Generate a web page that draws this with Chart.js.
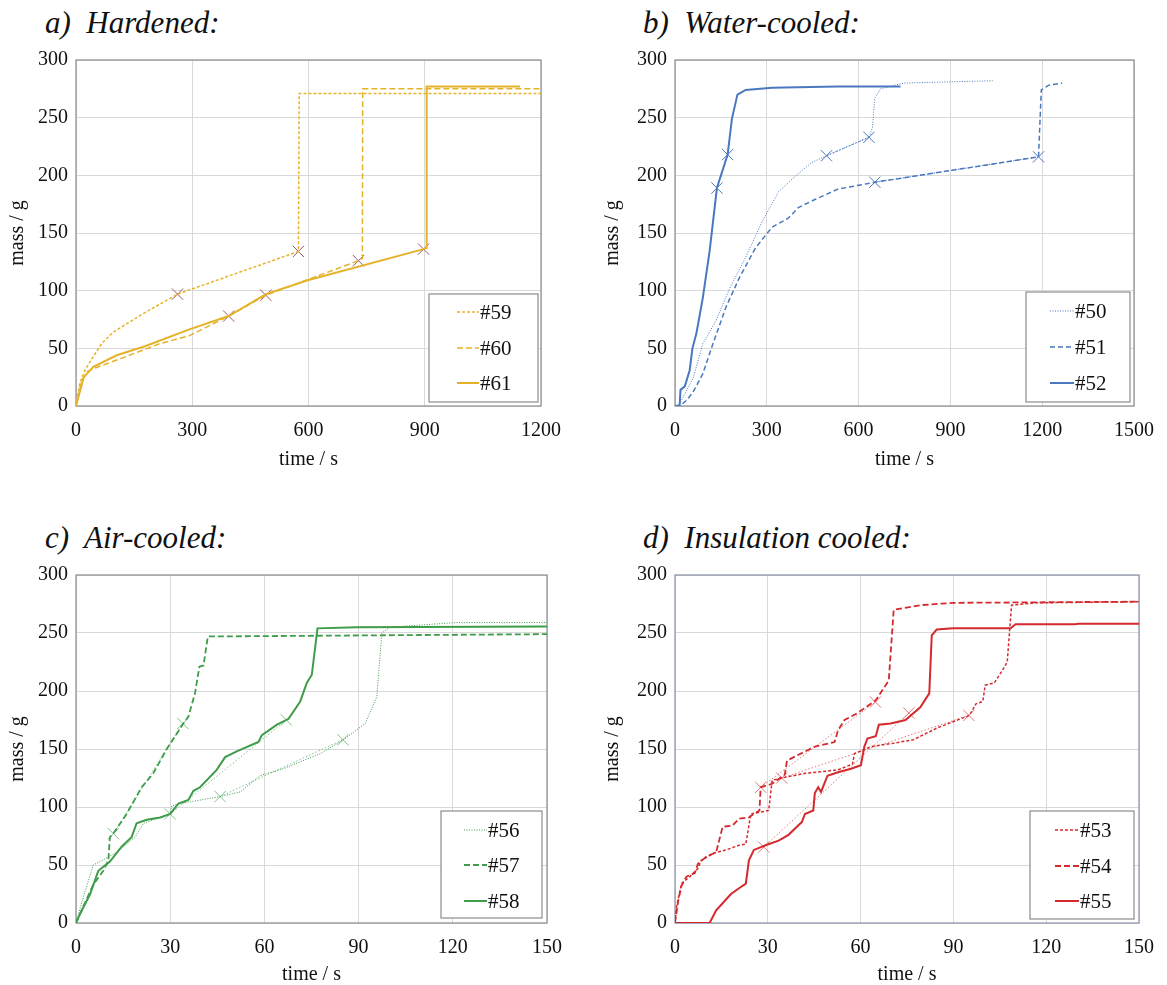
<!DOCTYPE html>
<html>
<head>
<meta charset="utf-8">
<script src="https://cdn.jsdelivr.net/npm/chart.js@4"></script>
<style>
  body { margin: 0; background: #fff; width: 1167px; height: 985px; position: relative; overflow: hidden; font-family: "Liberation Serif", serif; }
  .ttl { position: absolute; font-style: italic; font-size: 31px; line-height: 1; color: #111; white-space: pre; }
  .pn { position: absolute; }
</style>
</head>
<body>
<div class="ttl" style="left:45px;top:7px">a)  Hardened:</div>
<div class="ttl" style="left:643px;top:7px">b)  Water-cooled:</div>
<div class="ttl" style="left:45px;top:522px">c)  Air-cooled:</div>
<div class="ttl" style="left:643px;top:522px">d)  Insulation cooled:</div>

<div class="pn" style="left:0;top:40px;width:583px;height:440px"><canvas id="chartA"></canvas></div>
<div class="pn" style="left:583px;top:40px;width:584px;height:440px"><canvas id="chartB"></canvas></div>
<div class="pn" style="left:0;top:540px;width:583px;height:445px"><canvas id="chartC"></canvas></div>
<div class="pn" style="left:583px;top:540px;width:584px;height:445px"><canvas id="chartD"></canvas></div>

<script>
// ---- data (time in s, mass in g) ----
// a) hardened
const t59 = [0, 10, 23, 45, 66, 96, 173, 262, 574, 576, 1200];
const m59 = [0, 20, 31, 43, 54, 64, 80, 97, 134, 271, 271];
const t60 = [0, 15, 30, 50, 130, 216, 293, 394, 490, 729, 739, 740, 1200];
const m60 = [0, 22, 30, 33, 43, 54, 61, 78, 96, 126, 128, 275, 275];
const t61 = [0, 20, 45, 105, 180, 289, 394, 490, 598, 897, 904, 905, 1146];
const m61 = [0, 25, 34, 44, 52, 66, 78, 97, 109, 136, 137, 277, 277];
const markT59 = [262, 574], markM59 = [97, 134];
const markT60 = [394, 729], markM60 = [78, 126];
const markT61 = [490, 897], markM61 = [96, 136];

// b) water-cooled
const t50 = [0, 15, 27, 59, 91, 134, 177, 231, 285, 339, 392, 446, 495, 634, 645, 653, 672, 747, 1038];
const m50 = [0, 1, 8, 24, 54, 74, 101, 129, 160, 186, 199, 211, 217, 233, 241, 267, 275, 280, 282];
const t51 = [0, 20, 38, 59, 91, 124, 167, 210, 263, 317, 371, 403, 457, 532, 653, 1188, 1197, 1220, 1265];
const m51 = [0, 1, 5, 12, 28, 54, 86, 111, 137, 155, 163, 172, 179, 188, 194, 216, 274, 278, 280];
const t52 = [0, 15, 18, 32, 48, 57, 70, 91, 113, 137, 172, 186, 204, 231, 317, 532, 737];
const m52 = [0, 0, 14, 17, 31, 50, 63, 94, 134, 189, 218, 249, 270, 274, 276, 277, 277];
const markT50 = [495, 634], markM50 = [217, 233];
const markT51 = [653, 1188], markM51 = [194, 216];
const markT52 = [137, 172], markM52 = [189, 218];

// c) air-cooled
const t56 = [0, 2.3, 5.5, 7.6, 13, 18.8, 21.5, 30, 30.5, 35.3, 45.9, 52.3, 58.6, 66, 77.8, 85.2, 92.1, 95.8, 97.4, 100, 121, 150];
const m56 = [0, 22, 50, 53, 61, 74, 86, 94, 101, 104, 109, 113, 127, 133, 146, 158, 172, 195, 250, 255, 259, 259];
const t57 = [0, 2.3, 5.5, 8.7, 10.3, 10.8, 11.9, 16.1, 20.9, 24.6, 28.9, 34.2, 35.8, 37.9, 39.3, 40.6, 42, 150];
const m57 = [0, 14, 33, 45, 54, 74, 77, 94, 117, 129, 150, 172, 178, 198, 221, 222, 247, 249];
const t58 = [0, 1.3, 4.5, 7.1, 10.8, 14.6, 17.7, 19.3, 22.5, 26.8, 30, 32.6, 35.8, 37.4, 39.5, 44.8, 47.5, 51.2, 58.1, 59.2, 64, 67.7, 71.4, 73.5, 75.1, 76.9, 89.4, 150];
const m58 = [0, 8, 25, 45, 53, 66, 74, 86, 89, 91, 94, 103, 106, 114, 117, 132, 143, 148, 156, 162, 171, 176, 191, 207, 214, 254, 255, 255.5];
const markT56 = [45.9, 85], markM56 = [109, 158];
const markT57 = [11.9, 34], markM57 = [77, 172];
const markT58 = [30, 67], markM58 = [94, 175];

// d) insulation cooled
const t53 = [0, 0.5, 2.1, 4.8, 7.4, 8.5, 12.2, 16.5, 20.7, 22.9, 24.5, 30.3, 31.4, 34.5, 42, 52.7, 57.4, 58, 63.3, 70.7, 77.1, 84.6, 95.2, 97.3, 99.5, 100.3, 103.2, 105.9, 107.4, 108.8, 116.5, 150];
const m53 = [0, 14, 34, 40, 47, 54, 60, 63, 67, 68, 94, 97, 123, 125, 129, 132, 137, 146, 152, 155, 158, 168, 179, 189, 191, 205, 207, 218, 225, 274, 276, 277];
const t54 = [0, 1.1, 2.1, 3.7, 6.4, 7.4, 10.1, 13.3, 15.4, 18.6, 20.7, 23.9, 25.5, 27.3, 27.7, 31.4, 35.5, 36.2, 39.9, 45.2, 51.6, 52.7, 54.8, 59, 64.9, 69.1, 70.7, 79.3, 89.9, 150];
const m54 = [0, 20, 32, 40, 43, 51, 57, 61, 83, 84, 90, 91, 94, 97, 117, 120, 128, 140, 145, 152, 156, 166, 175, 181, 192, 209, 270, 274, 276, 277];
const t55 = [0, 11.2, 13.3, 15.4, 18.1, 20.7, 22.9, 23.9, 25.5, 29.3, 33.5, 36.7, 39.4, 41, 42, 44.7, 45.2, 46.3, 47.2, 49.3, 52.7, 56.9, 60.1, 61.2, 62.2, 64.9, 65.9, 69.7, 74.5, 79.3, 82.2, 83, 84.6, 89.9, 108.5, 110.1, 129.3, 130.3, 150];
const m55 = [0, 0, 11, 17, 25, 30, 34, 54, 63, 67, 71, 76, 83, 87, 94, 97, 112, 117, 113, 127, 130, 133, 136, 152, 159, 161, 171, 172, 175, 186, 198, 248, 253, 254, 254, 257.5, 257.5, 258, 258];
const markT53 = [34.5, 95], markM53 = [125, 179];
const markT54 = [27.7, 64.8], markM54 = [117, 190.5];
const markT55 = [28.7, 75.6], markM55 = [65.5, 181];

const xTicksTop = [0, 300, 600, 900, 1200, 1500];
const xTicksBottom = [0, 30, 60, 90, 120, 150];
const yTicks = [0, 50, 100, 150, 200, 250, 300];

// ---- styling ----
const FONT = "'Liberation Serif', 'Times New Roman', serif";
const GOLD = '#e5b32a', BLUE = '#4a78c0', GREEN = '#3f9c4a', RED = '#d42a2e';

Chart.defaults.font.family = FONT;

function pts(ts, ms) {
  return ts.map((t, i) => ({ x: t, y: ms[i] }));
}

function line(label, ts, ms, color, dash, width) {
  return {
    label, data: pts(ts, ms), showLine: true, borderColor: color, backgroundColor: color,
    borderWidth: width, borderDash: dash, pointRadius: 0, tension: 0, fill: false, inLegend: true
  };
}

function marks(ts, ms, color, link) {
  return {
    data: pts(ts, ms), showLine: link, borderColor: color, borderWidth: 1, borderDash: [1.5, 2],
    pointStyle: 'crossRot', pointRadius: 8, pointBorderColor: color, pointBorderWidth: 1,
    backgroundColor: color, tension: 0, fill: false
  };
}

// plot frame
const frame = {
  id: 'frame',
  beforeDatasetsDraw(chart, args, opts) {
    const { ctx, chartArea: a } = chart;
    ctx.save();
    ctx.strokeStyle = opts.color || '#8c8c8c';
    ctx.lineWidth = 1.2;
    ctx.strokeRect(a.left, a.top, a.right - a.left, a.bottom - a.top);
    ctx.restore();
  }
};

// legend box inside the plot
const boxLegend = {
  id: 'boxLegend',
  afterDatasetsDraw(chart, args, opts) {
    const { ctx, chartArea: a } = chart;
    const x0 = a.right - opts.right - opts.w;
    const y0 = a.bottom - opts.bottom - opts.h;
    ctx.save();
    ctx.fillStyle = '#fff';
    ctx.fillRect(x0, y0, opts.w, opts.h);
    ctx.strokeStyle = '#8c8c8c';
    ctx.lineWidth = 1.2;
    ctx.strokeRect(x0, y0, opts.w, opts.h);
    const items = chart.data.datasets.filter(d => d.inLegend);
    items.forEach((d, i) => {
      const y = y0 + opts.rows[i];
      ctx.strokeStyle = d.borderColor;
      ctx.lineWidth = d.borderWidth;
      ctx.setLineDash(d.borderDash || []);
      ctx.beginPath();
      ctx.moveTo(x0 + opts.s0, y);
      ctx.lineTo(x0 + opts.s1, y);
      ctx.stroke();
      ctx.setLineDash([]);
      ctx.fillStyle = '#111';
      ctx.font = '21px ' + FONT;
      ctx.textBaseline = 'middle';
      ctx.fillText(d.label, x0 + opts.s1 + 1, y + 1);
    });
    ctx.restore();
  }
};

function panel(id, cfg) {
  new Chart(document.getElementById(id), {
    type: 'scatter',
    data: { datasets: cfg.datasets },
    options: {
      animation: false,
      responsive: true,
      maintainAspectRatio: false,
      layout: { padding: { left: 0, top: cfg.padTop, right: cfg.padRight, bottom: 0 } },
      plugins: {
        legend: { display: false },
        tooltip: { enabled: false },
        frame: { color: cfg.frameColor },
        boxLegend: cfg.legend
      },
      scales: {
        x: {
          type: 'linear', min: 0, max: cfg.xMax,
          afterBuildTicks: s => { s.ticks = cfg.xTicks.filter(v => v <= cfg.xMax).map(v => ({ value: v })); },
          afterFit: s => { s.height = cfg.xAxisH; },
          ticks: { font: { family: FONT, size: 20 }, color: '#111', padding: 13, maxRotation: 0, callback: v => String(v) },
          grid: { color: '#d9d9d9', drawTicks: false },
          border: { display: false },
          title: { display: true, text: 'time / s', color: '#111', font: { family: FONT, size: 20, lineHeight: 1 }, padding: { top: 0, bottom: cfg.xTitlePad } }
        },
        y: {
          type: 'linear', min: 0, max: 300,
          afterBuildTicks: s => { s.ticks = yTicks.map(v => ({ value: v })); },
          afterFit: s => { s.width = cfg.yAxisW; },
          ticks: { font: { family: FONT, size: 20 }, color: '#111', padding: 8, callback: v => String(v) },
          grid: { color: '#d9d9d9', drawTicks: false },
          border: { display: false },
          title: { display: true, text: 'mass / g', color: '#111', font: { family: FONT, size: 20, lineHeight: 1 }, padding: { top: cfg.yTitlePad, bottom: 0 } }
        }
      }
    },
    plugins: [frame, boxLegend]
  });
}

function drawAll() {
  // a) Hardened
  panel('chartA', {
    xMax: 1200, xTicks: xTicksTop, padTop: 18, padRight: 42, xAxisH: 74, yAxisW: 76,
    xTitlePad: 10, yTitlePad: 8,
    legend: { w: 109, h: 108, right: 3, bottom: 4, rows: [18, 54, 89], s0: 28, s1: 50 },
    datasets: [
      line('#59', t59, m59, GOLD, [3, 2], 1.5),
      line('#60', t60, m60, GOLD, [6, 3], 1.5),
      line('#61', t61, m61, GOLD, [], 2),
      marks(markT59, markM59, '#a0566a', false),
      marks(markT60, markM60, '#a0566a', false),
      marks(markT61, markM61, '#a0566a', false)
    ]
  });

  // b) Water-cooled
  panel('chartB', {
    xMax: 1500, xTicks: xTicksTop, padTop: 18, padRight: 27, xAxisH: 74, yAxisW: 92,
    xTitlePad: 10, yTitlePad: 20,
    legend: { w: 104, h: 110, right: 4, bottom: 4, rows: [19, 55, 91], s0: 24, s1: 48 },
    datasets: [
      line('#50', t50, m50, BLUE, [1, 1.5], 1),
      line('#51', t51, m51, BLUE, [5, 3], 1.5),
      line('#52', t52, m52, BLUE, [], 2),
      marks(markT50, markM50, BLUE, true),
      marks(markT51, markM51, BLUE, true),
      marks(markT52, markM52, BLUE, true)
    ]
  });

  // c) Air-cooled
  panel('chartC', {
    xMax: 150, xTicks: xTicksBottom, padTop: 35, padRight: 36, xAxisH: 62, yAxisW: 76,
    xTitlePad: 0, yTitlePad: 8,
    legend: { w: 101, h: 107, right: 5, bottom: 5, rows: [19, 54, 90], s0: 23, s1: 46 },
    datasets: [
      line('#56', t56, m56, GREEN, [1, 1.5], 1),
      line('#57', t57, m57, GREEN, [6, 3], 1.8),
      line('#58', t58, m58, GREEN, [], 2),
      marks(markT56, markM56, '#7fc487', true),
      marks(markT57, markM57, '#7fc487', true),
      marks(markT58, markM58, '#7fc487', true)
    ]
  });

  // d) Insulation cooled
  panel('chartD', {
    xMax: 150, xTicks: xTicksBottom, padTop: 35, padRight: 22, xAxisH: 62, yAxisW: 92,
    xTitlePad: 0, yTitlePad: 20, frameColor: '#8a90a8',
    legend: { w: 104, h: 108, right: 5, bottom: 4, rows: [19, 55, 90], s0: 25, s1: 49 },
    datasets: [
      line('#53', t53, m53, RED, [3, 2], 1.5),
      line('#54', t54, m54, RED, [6, 3], 1.8),
      line('#55', t55, m55, RED, [], 2),
      marks(markT53, markM53, '#e07a7a', true),
      marks(markT54, markM54, '#e07a7a', true),
      marks(markT55, markM55, '#e07a7a', true)
    ]
  });
}

// make sure the serif face is ready before the canvases draw text
document.fonts.load("20px 'Liberation Serif'").then(drawAll, drawAll);
</script>
</body>
</html>
